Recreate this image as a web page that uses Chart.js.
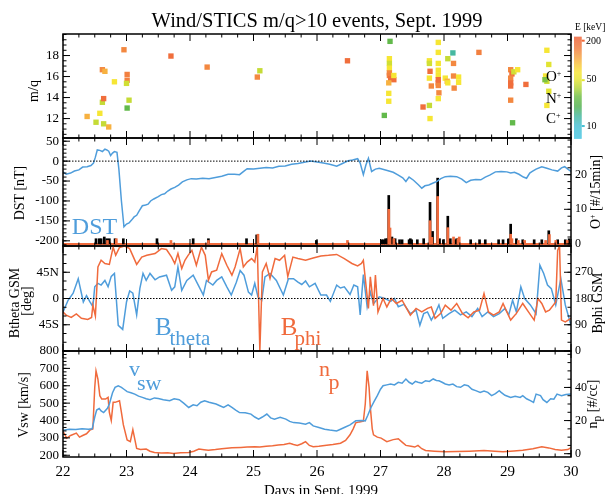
<!DOCTYPE html>
<html>
<head>
<meta charset="utf-8">
<title>Wind/STICS m/q&gt;10 events, Sept. 1999</title>
<script src="https://cdn.jsdelivr.net/npm/chart.js@4.4.1/dist/chart.umd.min.js"></script>
<style>
html,body{margin:0;padding:0;background:#fff;}
#wrap{position:relative;width:607px;height:494px;overflow:hidden;font-family:"Liberation Serif","Times New Roman",serif;color:#000;}
#wrap canvas{position:absolute;left:0;top:0;}
.t{position:absolute;white-space:nowrap;line-height:1;}
.c{transform:translate(-50%,-50%);}
.r{transform:translate(-50%,-50%) rotate(-90deg);}
.vm{transform:translate(0,-50%);}
.blue{color:#4f9ddb;}
.orange{color:#f06a3c;}
sup.p{font-size:8px;vertical-align:5px;line-height:0;}
</style>
</head>
<body>
<div id="wrap">
<canvas id="c1" width="607" height="494"></canvas>
<canvas id="c2" width="607" height="494"></canvas>
<canvas id="c3" width="607" height="494"></canvas>
<canvas id="c4" width="607" height="494"></canvas>

<div class="t c" style="left:317px;top:20px;font-size:20.5px">Wind/STICS m/q&gt;10 events, Sept. 1999</div>
<div class="t r" style="left:33.5px;top:91px;font-size:14px">m/q</div>
<div class="t r" style="left:20px;top:192.5px;font-size:14px">DST [nT]</div>
<div class="t r" style="left:15px;top:303px;font-size:14px">Btheta GSM</div>
<div class="t r" style="left:27px;top:301px;font-size:14px">[deg]</div>
<div class="t r" style="left:23.5px;top:405px;font-size:14px">Vsw [km/s]</div>
<div class="t r" style="left:596px;top:192px;font-size:14px">O<sup class="p">+</sup> [#/15min]</div>
<div class="t r" style="left:598px;top:303px;font-size:14px">Bphi GSM</div>
<div class="t r" style="left:595px;top:404px;font-size:14px">n<sub>p</sub> [#/cc]</div>
<div class="t c" style="left:321px;top:490px;font-size:15px">Days in Sept. 1999</div>

<div class="t" style="left:546px;top:69px;font-size:15px">O<sup class="p">+</sup></div>
<div class="t" style="left:546px;top:90.7px;font-size:15px">N<sup class="p">+</sup></div>
<div class="t" style="left:546px;top:111.4px;font-size:15px">C<sup class="p">+</sup></div>

<div class="t vm" style="left:575px;top:28px;font-size:9.5px">E [keV]</div>
<div class="t vm" style="left:586px;top:40.7px;font-size:10px">200</div>
<div class="t vm" style="left:586.5px;top:79.3px;font-size:10px">50</div>
<div class="t vm" style="left:586.5px;top:126px;font-size:10px">10</div>

<div class="t c blue" style="left:94.5px;top:225.5px;font-size:24px">DST</div>
<div class="t blue" style="left:155px;top:314px;font-size:25px">B</div>
<div class="t blue" style="left:169.5px;top:328.4px;font-size:21px">theta</div>
<div class="t orange" style="left:280.7px;top:314px;font-size:25px">B</div>
<div class="t orange" style="left:294.5px;top:328.4px;font-size:21px">phi</div>
<div class="t blue" style="left:129px;top:358.3px;font-size:22px">v</div>
<div class="t blue" style="left:137px;top:371.6px;font-size:22px">sw</div>
<div class="t orange" style="left:318.9px;top:358.3px;font-size:22px">n</div>
<div class="t orange" style="left:328.6px;top:370.6px;font-size:22px">p</div>
</div>

<script>
// ---------------- DATA ----------------
const dayTicks = [22, 23, 24, 25, 26, 27, 28, 29, 30];

// m/q>10 events: [day, m/q, energy keV]
const ionEvents = [
  [22.38,12.2,100],[22.52,11.65,42],[22.58,12.5,65],[22.64,11.5,42],[22.72,11.2,100],
  [22.62,13.55,42],[22.64,13.9,190],[22.62,16.65,140],[22.66,16.5,100],[22.81,15.5,65],
  [22.96,18.55,140],[23.01,16.2,150],[23.01,15.65,150],[23.00,15.35,45],[23.04,13.75,42],
  [23.01,13.0,24],[23.70,17.95,190],[24.27,16.9,140],[25.06,15.95,140],[25.10,16.55,42],
  [26.48,17.5,190],[27.06,12.3,24],[27.15,19.35,24],[27.14,17.7,65],[27.14,17.25,45],
  [27.14,16.8,65],[27.14,16.35,140],[27.14,16.1,150],[27.16,15.8,190],[27.21,15.7,190],
  [27.13,15.4,100],[27.21,16.1,65],[27.13,14.4,65],[27.13,13.65,65],[27.67,13.1,190],
  [27.77,13.25,42],[27.78,12.0,65],[27.77,17.5,65],[27.77,17.25,45],[27.78,16.5,190],
  [27.77,15.85,65],[27.80,15.1,140],[27.91,19.25,65],[27.91,18.3,65],[27.91,17.25,65],
  [27.91,16.6,65],[27.91,16.1,65],[27.91,15.7,190],[27.91,15.4,190],[27.91,15.15,140],
  [27.92,14.45,140],[27.91,13.9,65],[28.02,15.85,65],[28.05,15.55,100],[28.06,15.4,65],
  [28.14,18.25,14],[28.06,17.7,42],[28.15,17.25,140],[28.15,16.05,140],[28.23,15.95,65],
  [28.23,15.45,65],[28.16,14.9,140],[28.55,18.3,150],[29.05,16.65,140],[29.07,16.25,190],
  [29.05,15.85,140],[29.05,15.4,190],[29.05,15.1,190],[29.05,13.75,140],[29.10,16.45,45],
  [29.16,16.65,65],[29.29,15.25,190],[29.08,11.6,24],[29.62,18.5,65],[29.65,17.15,50],
  [29.60,16.05,65],[29.62,15.55,45],[29.65,14.6,50],[29.62,13.25,65],[29.59,15.7,30]
];
const mqTicks = [12, 14, 16, 18];
const energyTicks = [200, 50, 10];

// DST [nT]: [day, value]
const dstSeries = [
  [22.00,-27],[22.05,-33],[22.12,-30],[22.18,-25],[22.25,-22],[22.31,-15],[22.38,-14],[22.44,-11],
  [22.48,-5],[22.51,10],[22.54,28],[22.58,27],[22.62,24],[22.66,30],[22.69,28],[22.72,25],
  [22.75,14],[22.78,20],[22.81,24],[22.85,22],[22.88,-20],[22.92,-100],[22.96,-165],[23.00,-158],
  [23.04,-155],[23.08,-148],[23.12,-140],[23.16,-136],[23.20,-125],[23.25,-112],[23.30,-110],[23.34,-108],
  [23.38,-100],[23.43,-95],[23.50,-89],[23.55,-84],[23.60,-82],[23.65,-75],[23.70,-70],[23.76,-66],
  [23.82,-60],[23.88,-52],[23.95,-47],[24.02,-44],[24.10,-45],[24.20,-43],[24.30,-44],[24.40,-41],
  [24.50,-38],[24.60,-33],[24.70,-33],[24.78,-34],[24.85,-25],[24.90,-19],[25.00,-20],[25.10,-18],
  [25.20,-16],[25.30,-17],[25.40,-13],[25.50,-12],[25.60,-8],[25.70,-6],[25.80,-3],[25.90,0],
  [26.00,-2],[26.10,-5],[26.20,-8],[26.31,-13],[26.40,-6],[26.49,1],[26.56,3],[26.64,6],
  [26.68,-5],[26.73,-34],[26.77,-10],[26.81,7],[26.86,-26],[26.92,-20],[26.98,-18],[27.05,-21],
  [27.12,-24],[27.20,-28],[27.28,-35],[27.35,-42],[27.40,-51],[27.45,-40],[27.52,-48],[27.60,-60],
  [27.65,-68],[27.70,-62],[27.76,-60],[27.83,-55],[27.89,-51],[27.95,-44],[28.02,-39],[28.10,-38],
  [28.20,-39],[28.28,-45],[28.35,-54],[28.42,-48],[28.50,-46],[28.58,-47],[28.65,-40],[28.72,-35],
  [28.81,-27],[28.90,-26],[28.99,-27],[29.05,-30],[29.11,-28],[29.18,-33],[29.25,-40],[29.30,-43],
  [29.35,-30],[29.39,-26],[29.45,-20],[29.54,-14],[29.62,-18],[29.70,-22],[29.79,-25],[29.85,-17],
  [29.90,-14],[29.95,-20],[30.00,-26]
];
const dstTicks = [50, 0, -50, -100, -150, -200];

// heavy-ion counts per 15 min (all, black) and O+ (orange): [day, count]
const allIonCounts = [
  [22.52,1.5],[22.57,1.5],[22.60,1.5],[22.65,2],[22.69,1.5],[22.73,1.5],[22.82,1.5],[22.95,1.5],
  [23.48,1.5],[24.05,1.5],[24.29,1.5],[24.89,1.5],[25.05,2.6],[25.99,1],[27.02,1.2],[27.05,1.2],
  [27.08,1.5],[27.11,1.5],[27.13,14],[27.18,2],[27.23,1.5],[27.30,1.2],[27.34,1.2],[27.45,1.2],
  [27.47,1.5],[27.49,1.2],[27.58,1.2],[27.68,1.5],[27.78,12],[27.82,3.6],[27.90,19],[27.93,1.5],
  [27.99,1.2],[28.06,8],[28.10,1.5],[28.18,1.2],[28.20,1.5],[28.42,1.2],[28.56,1.2],[28.65,1.2],
  [28.86,1.2],[28.93,1.2],[29.02,1.5],[29.05,5.7],[29.14,1.5],[29.24,1.2],[29.42,1.2],[29.54,1.2],
  [29.65,3.8],[29.79,1.2],[29.91,1.2],[29.97,1.5]
];
const oxygenCounts = [
  [22.70,1],[22.84,1.5],[23.70,1],[24.29,1],[25.07,2.8],[26.48,1],[27.13,10],[27.15,4.6],
  [27.21,1.5],[27.78,6.7],[27.81,1.9],[27.90,13.7],[28.06,4.7],[28.15,2],[28.22,1.5],[28.24,2],
  [29.05,2.8],[29.07,1.5],[29.17,1],[29.27,1],[29.60,1],[29.66,2.7],[29.76,1],[29.94,1]
];
const countTicks = [0, 10, 20];

// Btheta GSM [deg] and Bphi GSM [deg]: [day, value]
const bThetaSeries = [
  [22.00,-23],[22.08,-3],[22.16,9],[22.24,34],[22.29,9],[22.32,-6],[22.37,5],[22.42,-5],[22.47,-14],
  [22.50,20],[22.55,26],[22.60,23],[22.66,31],[22.71,20],[22.76,38],[22.81,43],[22.87,-46],[22.94,-53],
  [23.00,-6],[23.05,13],[23.10,9],[23.16,-28],[23.21,17],[23.26,43],[23.31,31],[23.37,43],[23.45,32],
  [23.52,37],[23.63,40],[23.71,14],[23.76,20],[23.81,54],[23.87,14],[23.95,31],[24.05,40],[24.13,23],
  [24.21,6],[24.26,31],[24.36,23],[24.42,31],[24.50,37],[24.58,20],[24.65,6],[24.73,28],[24.79,48],
  [24.85,40],[24.92,11],[24.97,6],[25.02,26],[25.07,3],[25.13,-3],[25.18,37],[25.26,43],[25.36,31],
  [25.47,6],[25.55,34],[25.63,34],[25.70,28],[25.76,24],[25.82,30],[25.88,20],[25.97,26],[26.06,6],
  [26.15,6],[26.21,-5],[26.31,23],[26.37,18],[26.43,20],[26.52,7],[26.58,23],[26.64,20],[26.68,-28],
  [26.73,41],[26.79,-14],[26.84,11],[26.89,-9],[26.98,3],[27.07,0],[27.16,-5],[27.22,0],[27.28,-14],
  [27.37,-10],[27.47,-26],[27.56,-20],[27.62,-46],[27.68,-26],[27.74,-23],[27.80,-37],[27.86,-26],
  [27.92,-11],[27.98,-34],[28.08,-26],[28.17,-20],[28.26,-28],[28.35,-23],[28.44,-31],[28.53,-17],
  [28.60,-31],[28.69,-23],[28.78,-31],[28.87,-26],[28.96,-17],[29.02,-28],[29.08,-3],[29.14,-23],
  [29.21,20],[29.27,0],[29.36,-11],[29.45,-26],[29.51,57],[29.57,43],[29.63,23],[29.69,17],
  [29.76,-11],[29.84,34],[29.91,-11],[30.00,-46]
];
const bPhiSeries = [
  [22.00,134],[22.05,123],[22.13,115],[22.21,127],[22.29,112],[22.39,108],[22.45,115],[22.47,157],
  [22.51,120],[22.55,288],[22.60,311],[22.66,300],[22.73,297],[22.79,356],[22.83,328],[22.89,355],
  [22.97,360],[23.05,351],[23.16,297],[23.24,322],[23.32,328],[23.45,334],[23.55,351],[23.63,348],
  [23.71,322],[23.76,300],[23.81,334],[23.87,283],[23.92,311],[23.97,328],[24.03,345],[24.10,294],
  [24.18,356],[24.24,328],[24.29,243],[24.34,271],[24.42,277],[24.50,334],[24.58,294],[24.66,260],
  [24.71,288],[24.79,351],[24.84,288],[24.90,305],[24.97,317],[25.02,305],[25.06,360],[25.10,0],
  [25.14,271],[25.20,300],[25.26,249],[25.34,317],[25.41,311],[25.49,328],[25.54,255],[25.62,322],
  [25.70,317],[25.82,311],[25.94,319],[26.06,326],[26.18,328],[26.31,331],[26.43,317],[26.55,300],
  [26.64,292],[26.70,300],[26.73,311],[26.76,249],[26.81,146],[26.84,254],[26.89,155],[26.92,260],
  [26.96,134],[27.04,180],[27.10,151],[27.17,180],[27.25,163],[27.34,174],[27.47,123],[27.56,146],
  [27.65,134],[27.74,146],[27.80,151],[27.86,112],[27.95,129],[28.02,157],[28.11,140],[28.20,163],
  [28.29,129],[28.38,114],[28.47,134],[28.56,140],[28.63,197],[28.70,134],[28.78,123],[28.87,134],
  [28.93,163],[28.99,134],[29.05,106],[29.14,129],[29.24,163],[29.33,134],[29.42,106],[29.48,180],
  [29.54,163],[29.60,134],[29.66,140],[29.76,168],[29.79,345],[29.82,360],[29.85,106],[29.91,100],
  [30.00,112]
];
const thetaTicks = [-45, 0, 45];
const phiTicks = [0, 90, 180, 270];

// Solar wind speed [km/s] and proton density [#/cc]: [day, value]
const vswSeries = [
  [22.00,344],[22.10,350],[22.20,348],[22.30,352],[22.40,350],[22.46,352],[22.50,420],[22.53,460],
  [22.57,469],[22.60,455],[22.64,446],[22.70,470],[22.73,495],[22.78,560],[22.82,591],[22.87,600],
  [22.92,591],[22.96,580],[23.01,566],[23.07,560],[23.13,552],[23.19,540],[23.25,533],[23.31,525],
  [23.37,520],[23.44,530],[23.50,527],[23.58,520],[23.68,514],[23.75,525],[23.83,520],[23.90,500],
  [23.98,475],[24.05,490],[24.11,485],[24.17,505],[24.23,514],[24.30,505],[24.41,495],[24.47,485],
  [24.53,475],[24.60,490],[24.66,475],[24.72,460],[24.78,446],[24.87,445],[24.96,437],[25.02,420],
  [25.08,408],[25.14,420],[25.21,437],[25.27,415],[25.33,408],[25.42,418],[25.51,408],[25.57,395],
  [25.63,388],[25.72,385],[25.82,379],[25.88,388],[25.94,369],[26.03,360],[26.12,350],[26.20,345],
  [26.31,340],[26.37,350],[26.43,360],[26.52,375],[26.61,398],[26.70,400],[26.76,398],[26.80,430],
  [26.85,475],[26.90,510],[26.95,543],[27.00,580],[27.04,600],[27.10,605],[27.16,610],[27.22,605],
  [27.28,620],[27.34,615],[27.40,639],[27.45,620],[27.50,610],[27.55,625],[27.59,620],[27.65,615],
  [27.71,629],[27.77,625],[27.83,639],[27.88,630],[27.92,629],[27.97,620],[28.02,610],[28.08,605],
  [28.14,610],[28.20,595],[28.26,591],[28.32,605],[28.38,600],[28.44,580],[28.50,572],[28.57,562],
  [28.63,570],[28.69,562],[28.75,543],[28.81,555],[28.87,572],[28.90,562],[28.96,545],[29.05,533],
  [29.12,540],[29.20,533],[29.24,543],[29.30,525],[29.36,514],[29.41,504],[29.45,552],[29.52,543],
  [29.56,520],[29.62,504],[29.68,525],[29.73,523],[29.78,552],[29.85,543],[29.92,550],[30.00,552]
];
const npSeries = [
  [22.00,13.4],[22.06,9.4],[22.12,11],[22.21,12.4],[22.26,10],[22.31,11],[22.37,12],[22.43,14.5],
  [22.47,15],[22.50,40],[22.52,50],[22.55,45],[22.58,35],[22.61,33],[22.67,33],[22.71,34],
  [22.73,25],[22.76,20],[22.79,31],[22.82,31],[22.89,32],[22.92,25],[22.95,17.5],[23.01,8.3],
  [23.06,7.3],[23.10,14.5],[23.16,3.2],[23.22,2.5],[23.31,2.8],[23.37,1.5],[23.44,0.7],[23.55,0.4],
  [23.65,0.5],[23.74,0.1],[23.85,0.5],[23.98,0.7],[24.06,1.5],[24.14,2.8],[24.22,2.4],[24.29,2.1],
  [24.40,2.5],[24.50,3],[24.66,3.6],[24.80,3.8],[24.90,4],[25.02,4.2],[25.10,4],[25.20,4.5],
  [25.30,4.8],[25.39,5.2],[25.48,5.5],[25.57,6.3],[25.63,5.5],[25.69,5],[25.76,6],[25.82,7.3],
  [25.88,5],[25.94,4.2],[26.03,4.5],[26.12,5],[26.25,5.5],[26.37,6.3],[26.45,8],[26.52,11.4],
  [26.57,15],[26.61,18.6],[26.67,19.2],[26.73,19.6],[26.76,30],[26.79,50],[26.82,40],[26.84,27.8],
  [26.87,15],[26.89,11.4],[26.95,10],[27.01,9.4],[27.10,7.3],[27.20,8.5],[27.28,9],[27.34,7],
  [27.40,5],[27.48,4.5],[27.54,4],[27.59,5],[27.65,3],[27.71,1.9],[27.85,1.5],[28.02,1.1],
  [28.20,1.3],[28.40,1.5],[28.63,1.9],[28.80,1.5],[28.93,1.1],[29.10,1.6],[29.24,2.1],[29.40,3],
  [29.54,4.2],[29.65,3.5],[29.75,2.5],[29.85,2.1],[29.95,2.5],[30.00,3.6]
];
const vswTicks = [200, 300, 400, 500, 600, 700, 800];
const npTicks = [0, 20, 40];

// ---------------- STYLE / LAYOUT ----------------
const FONT = '"Liberation Serif", "Times New Roman", serif';
const BLUE = '#4f9ddb', ORANGE = '#f06a3c';
const W = 607, H = 494, LEFT_W = 63, RIGHT_W = 36;
const P1 = [34, 138], P2 = [138, 246], P3 = [246, 351], P4 = [351, 457];

const cmapStops = [
  [6.5,[70,198,226]],[10,[72,192,212]],[14,[70,184,160]],[20,[84,178,80]],[28,[110,190,70]],
  [38,[180,214,56]],[50,[226,228,50]],[65,[246,230,52]],[85,[248,200,60]],[110,[246,164,66]],
  [150,[242,128,64]],[230,[238,96,56]]
];
function energyColor(e) {
  const l = Math.log10(e);
  if (e <= cmapStops[0][0]) return 'rgb(' + cmapStops[0][1].join(',') + ')';
  for (let i = 1; i < cmapStops.length; i++) {
    if (e <= cmapStops[i][0]) {
      const l0 = Math.log10(cmapStops[i-1][0]), l1 = Math.log10(cmapStops[i][0]);
      const f = (l - l0) / (l1 - l0);
      const c = cmapStops[i-1][1].map((v, k) => Math.round(v + f * (cmapStops[i][1][k] - v)));
      return 'rgb(' + c.join(',') + ')';
    }
  }
  return 'rgb(' + cmapStops[cmapStops.length-1][1].join(',') + ')';
}

const idlPlugin = {
  id: 'idl',
  beforeDatasetsDraw(chart, args, o) {
    if (!o || !o.baseline) return;
    const ctx = chart.ctx, a = chart.chartArea;
    const y = chart.scales[o.baseline.scale].getPixelForValue(0);
    ctx.save();
    ctx.strokeStyle = o.baseline.color; ctx.lineWidth = 2;
    ctx.beginPath(); ctx.moveTo(a.left, y); ctx.lineTo(a.right, y); ctx.stroke();
    ctx.restore();
  },
  afterDatasetsDraw(chart, args, o) {
    if (!o || !o.left) return;
    const ctx = chart.ctx, a = chart.chartArea, xs = chart.scales.x;
    ctx.save();
    ctx.strokeStyle = '#000';
    if (o.zeroScale) {
      const y = chart.scales[o.zeroScale].getPixelForValue(0);
      ctx.lineWidth = 1; ctx.setLineDash([1.5, 1.5]);
      ctx.beginPath(); ctx.moveTo(a.left, y); ctx.lineTo(a.right, y); ctx.stroke();
      ctx.setLineDash([]);
    }
    ctx.lineWidth = 1;
    ctx.beginPath();
    const n = Math.round((xs.max - xs.min) * 4);
    for (let k = 0; k <= n; k++) {
      const px = xs.getPixelForValue(xs.min + k / 4);
      const len = (k % 4 === 0) ? 7 : 3.5;
      ctx.moveTo(px, a.top); ctx.lineTo(px, a.top + len);
      ctx.moveTo(px, a.bottom); ctx.lineTo(px, a.bottom - len);
    }
    const side = (spec, isLeft) => {
      const s = chart.scales[spec.scale];
      const x0 = isLeft ? a.left : a.right, dir = isLeft ? 1 : -1;
      const draw = (v, len) => {
        const py = s.getPixelForValue(v);
        if (py < a.top - 0.5 || py > a.bottom + 0.5) return;
        ctx.moveTo(x0, py); ctx.lineTo(x0 + dir * len, py);
      };
      const k0 = Math.ceil(s.min / spec.minor), k1 = Math.floor(s.max / spec.minor);
      for (let k = k0; k <= k1; k++) draw(k * spec.minor, 3.5);
      spec.major.forEach(v => draw(v, 7));
    };
    side(o.left, true);
    if (o.right) side(o.right, false);
    ctx.stroke();
    ctx.lineWidth = 1.5;
    ctx.strokeRect(a.left, a.top, a.right - a.left, a.bottom - a.top);
    ctx.restore();
  },
  afterDraw(chart, args, o) {
    if (!o || !o.colorbar) return;
    const ctx = chart.ctx, cb = o.colorbar;
    const lmin = Math.log10(cb.eMin), lmax = Math.log10(cb.eMax);
    ctx.save();
    for (let py = cb.top; py < cb.bottom; py += 1) {
      const f = (py + 0.5 - cb.top) / (cb.bottom - cb.top);
      ctx.fillStyle = energyColor(Math.pow(10, lmax - f * (lmax - lmin)));
      ctx.fillRect(cb.left, py, cb.width, 1.05);
    }
    energyTicks.forEach(e => {
      const py = cb.top + (lmax - Math.log10(e)) / (lmax - lmin) * (cb.bottom - cb.top);
      ctx.fillStyle = energyColor(e);
      ctx.fillRect(cb.left + cb.width, py - 1, 3, 2);
    });
    ctx.restore();
  }
};
Chart.register(idlPlugin);

function fixedTicks(vals) { return s => { s.ticks = vals.map(v => ({ value: v })); }; }
function xScale(show) {
  const sc = {
    type: 'linear', min: 22, max: 30, offset: false, display: show,
    afterBuildTicks: fixedTicks(dayTicks),
    grid: { display: false, drawTicks: false }, border: { display: false },
    ticks: { font: { family: FONT, size: 15 }, color: '#000', padding: 6, maxRotation: 0, autoSkip: false }
  };
  sc.afterFit = s => { s.height = show ? H - P4[1] : 0; };
  return sc;
}
function yScale(min, max, ticks, position, size, fmt) {
  return {
    type: 'linear', position, min, max,
    afterBuildTicks: fixedTicks(ticks),
    afterFit: s => { s.width = position === 'left' ? LEFT_W : RIGHT_W; },
    grid: { display: false, drawTicks: false }, border: { display: false },
    ticks: { font: { family: FONT, size }, color: '#000', padding: 4, autoSkip: false,
             callback: fmt || (v => String(v)) }
  };
}
function baseOptions(padding, scales, idl) {
  return {
    responsive: false, animation: false, events: [],
    layout: { padding },
    scales,
    plugins: { legend: { display: false }, tooltip: { enabled: false }, idl }
  };
}
const pts = arr => arr.map(p => ({ x: p[0], y: p[1] }));
const lineDs = (arr, color, axis) => ({
  type: 'line', data: pts(arr), borderColor: color, borderWidth: 1.5, pointRadius: 0,
  tension: 0, yAxisID: axis, order: 0
});

// Panel 1: m/q events
new Chart(document.getElementById('c1'), {
  type: 'scatter',
  data: { datasets: [{
    data: ionEvents.map(e => ({ x: e[0], y: e[1] })),
    backgroundColor: ionEvents.map(e => energyColor(e[2])),
    pointStyle: 'rect', pointRadius: 3.8, borderWidth: 0
  }] },
  options: baseOptions({ top: P1[0], bottom: H - P1[1], left: 0, right: RIGHT_W },
    { x: xScale(false), y: yScale(10.15, 20.05, mqTicks, 'left', 13) },
    { left: { scale: 'y', major: mqTicks, minor: 0.5 }, right: { scale: 'y', major: mqTicks, minor: 0.5 },
      colorbar: { left: 574, width: 7.7, top: 36.7, bottom: 138.3, eMin: 6.5, eMax: 230 } })
});

// Panel 2: DST and O+ counts
new Chart(document.getElementById('c2'), {
  type: 'line',
  data: { datasets: [
    lineDs(dstSeries, BLUE, 'y'),
    { type: 'bar', data: pts(oxygenCounts), backgroundColor: ORANGE, barThickness: 2, grouped: false, yAxisID: 'y2', order: 1 },
    { type: 'bar', data: pts(allIonCounts), backgroundColor: '#000', barThickness: 2, grouped: false, yAxisID: 'y2', order: 2 }
  ] },
  options: baseOptions({ top: P2[0], bottom: H - P2[1], left: 0, right: 0 },
    { x: xScale(false), y: yScale(-213, 58, dstTicks, 'left', 13), y2: yScale(-0.6, 30.6, countTicks, 'right', 12) },
    { left: { scale: 'y', major: dstTicks, minor: 10 }, right: { scale: 'y2', major: countTicks, minor: 2 },
      zeroScale: 'y', baseline: { scale: 'y2', color: ORANGE } })
});

// Panel 3: IMF angles
new Chart(document.getElementById('c3'), {
  type: 'line',
  data: { datasets: [ lineDs(bPhiSeries, ORANGE, 'y2'), lineDs(bThetaSeries, BLUE, 'y') ] },
  options: baseOptions({ top: P3[0], bottom: H - P3[1], left: 0, right: 0 },
    { x: xScale(false),
      y: yScale(-90, 90, thetaTicks, 'left', 13, v => v > 0 ? v + 'N' : (v < 0 ? (-v) + 'S' : '0')),
      y2: yScale(0, 360, phiTicks, 'right', 12) },
    { left: { scale: 'y', major: thetaTicks, minor: 15 }, right: { scale: 'y2', major: phiTicks, minor: 30 },
      zeroScale: 'y' })
});

// Panel 4: solar wind
new Chart(document.getElementById('c4'), {
  type: 'line',
  data: { datasets: [ lineDs(vswSeries, BLUE, 'y'), lineDs(npSeries, ORANGE, 'y2') ] },
  options: baseOptions({ top: P4[0], bottom: 0, left: 0, right: 0 },
    { x: xScale(true), y: yScale(190, 800, vswTicks, 'left', 13), y2: yScale(-2, 62, npTicks, 'right', 12) },
    { left: { scale: 'y', major: vswTicks, minor: 20 }, right: { scale: 'y2', major: npTicks, minor: 5 } })
});
</script>
</body>
</html>
